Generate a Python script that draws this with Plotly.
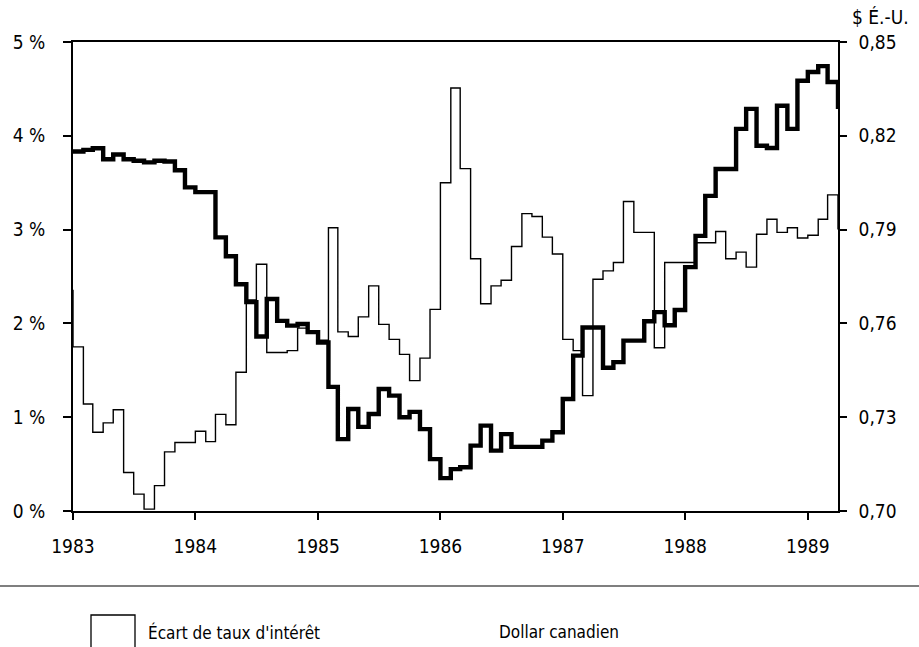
import pandas as pd
import plotly.graph_objects as go

# Monthly observations, December 1982 to April 1989 (first and last only touch the frame edges)
months = pd.date_range("1982-12-01", "1989-04-01", freq="MS")

# Interest-rate spread, in percentage points (left axis)
spread = [
    2.35,
    1.75, 1.14, 0.84, 0.94, 1.08, 0.41, 0.18, 0.02, 0.27, 0.63, 0.73, 0.73,   # 1983
    0.85, 0.74, 1.03, 0.92, 1.48, 2.25, 2.63, 1.69, 1.69, 1.71, 1.95, 1.90,   # 1984
    1.82, 3.02, 1.91, 1.86, 2.07, 2.40, 1.99, 1.83, 1.67, 1.39, 1.63, 2.15,   # 1985
    3.50, 4.51, 3.65, 2.69, 2.21, 2.40, 2.46, 2.82, 3.17, 3.14, 2.92, 2.74,   # 1986
    1.83, 1.71, 1.23, 2.47, 2.56, 2.65, 3.30, 2.97, 2.97, 1.74, 2.65, 2.65,   # 1987
    2.65, 2.86, 2.86, 2.98, 2.69, 2.76, 2.60, 2.95, 3.11, 2.97, 3.02, 2.91,   # 1988
    2.94, 3.11, 3.37, 3.00,                                                   # 1989
]

# Canadian dollar, in US dollars (right axis)
cad = [
    0.8150,
    0.8150, 0.8155, 0.8160, 0.8125, 0.8140, 0.8125, 0.8120, 0.8115, 0.8120, 0.8118, 0.8090, 0.8035,  # 1983
    0.8020, 0.8020, 0.7875, 0.7815, 0.7725, 0.7668, 0.7558, 0.7678, 0.7608, 0.7593, 0.7598, 0.7572,  # 1984
    0.7539, 0.7397, 0.7230, 0.7326, 0.7269, 0.7310, 0.7390, 0.7369, 0.7300, 0.7317, 0.7262, 0.7166,  # 1985
    0.7105, 0.7134, 0.7140, 0.7209, 0.7273, 0.7193, 0.7246, 0.7205, 0.7205, 0.7205, 0.7225, 0.7252,  # 1986
    0.7358, 0.7497, 0.7587, 0.7587, 0.7458, 0.7476, 0.7545, 0.7545, 0.7607, 0.7636, 0.7594, 0.7643,  # 1987
    0.7780, 0.7880, 0.8008, 0.8094, 0.8094, 0.8222, 0.8286, 0.8168, 0.8161, 0.8296, 0.8222, 0.8376,  # 1988
    0.8404, 0.8423, 0.8372, 0.8286,                                                                  # 1989
]

year_ticks = [f"{y}-01-01" for y in range(1983, 1990)]
year_labels = [str(y) for y in range(1983, 1990)]
pct_ticks = [0, 1, 2, 3, 4, 5]
pct_labels = ["0 %", "1 %", "2 %", "3 %", "4 %", "5 %"]
usd_ticks = [0.70, 0.73, 0.76, 0.79, 0.82, 0.85]
usd_labels = ["0,70", "0,73", "0,76", "0,79", "0,82", "0,85"]

FONT = "Liberation Sans Narrow, Arial Narrow, DejaVu Sans Condensed, Liberation Sans, sans-serif"
INK = "#000000"

W, H = 919, 647
L, R, T, B = 73, 81, 42, 136
PW, PH = W - L - R, H - T - B


def px_x(x):
    return (x - L) / PW


def px_y(y):
    return (H - B - y) / PH


fig = go.Figure()
fig.add_trace(go.Scatter(
    x=months, y=spread, mode="lines", line=dict(color=INK, width=1.4, shape="hv"),
    name="Écart de taux d'intérêt", yaxis="y", hoverinfo="skip",
))
fig.add_trace(go.Scatter(
    x=months, y=cad, mode="lines", line=dict(color=INK, width=4.4, shape="hv"),
    name="Dollar canadien", yaxis="y2", hoverinfo="skip",
))

tick_font = dict(family=FONT, size=19, color=INK)
key_font = dict(family=FONT, size=17, color=INK)

fig.update_layout(
    width=W, height=H,
    margin=dict(l=L, r=R, t=T, b=B),
    paper_bgcolor="white", plot_bgcolor="white",
    showlegend=False,
    font=tick_font,
    xaxis=dict(
        range=["1983-01-01", "1989-04-01"],
        tickvals=year_ticks, ticktext=year_labels,
        ticks="outside", ticklen=7, tickwidth=1.5, tickcolor=INK,
        showline=True, linecolor=INK, linewidth=1.5, mirror=True,
        showgrid=False, zeroline=False, tickfont=tick_font,
        ticklabelstandoff=10,
    ),
    yaxis=dict(
        range=[0, 5], tickvals=pct_ticks, ticktext=pct_labels,
        ticks="outside", ticklen=8, tickwidth=1.5, tickcolor=INK,
        showline=True, linecolor=INK, linewidth=2, mirror=False,
        showgrid=False, zeroline=False, tickfont=tick_font,
        ticklabelstandoff=14,
    ),
    yaxis2=dict(
        range=[0.70, 0.85], tickvals=usd_ticks, ticktext=usd_labels,
        overlaying="y", side="right",
        ticks="outside", ticklen=7, tickwidth=1.5, tickcolor=INK,
        showline=True, linecolor=INK, linewidth=1.5,
        showgrid=False, zeroline=False, tickfont=tick_font,
        ticklabelstandoff=8,
    ),
)

# Unit label above the right axis
fig.add_annotation(
    text="$ É.-U.", xref="paper", yref="paper", x=px_x(850), y=px_y(17),
    xanchor="left", yanchor="middle", showarrow=False, font=tick_font,
)

# Rule separating the chart from the key
fig.add_shape(
    type="line", xref="paper", yref="paper",
    x0=px_x(0), x1=px_x(W), y0=px_y(586), y1=px_y(586),
    line=dict(color=INK, width=1.2),
)

# Key: open box for the spread, plain label for the dollar
fig.add_shape(
    type="rect", xref="paper", yref="paper",
    x0=px_x(91), x1=px_x(135), y0=px_y(615), y1=px_y(652),
    line=dict(color=INK, width=1.3), fillcolor="white",
)
fig.add_annotation(
    text="Écart de taux d'intérêt", xref="paper", yref="paper",
    x=px_x(146), y=px_y(632), xanchor="left", yanchor="middle",
    showarrow=False, font=key_font,
)
fig.add_annotation(
    text="Dollar canadien", xref="paper", yref="paper",
    x=px_x(497), y=px_y(632), xanchor="left", yanchor="middle",
    showarrow=False, font=key_font,
)

fig.write_html("out.html")
